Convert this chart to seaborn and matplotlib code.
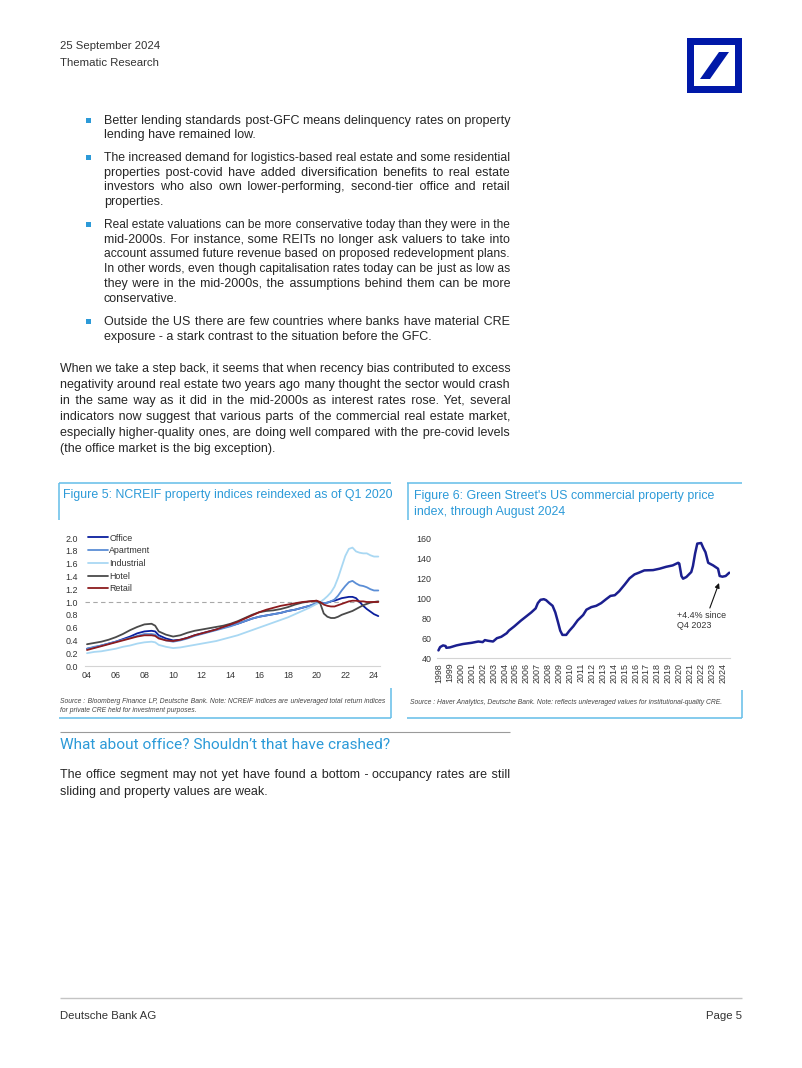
import matplotlib
matplotlib.use("Agg")
import matplotlib.pyplot as plt
import seaborn as sns
import numpy as np
import pandas as pd
from matplotlib.patches import Rectangle, Polygon
from matplotlib.lines import Line2D

# ---------------- DATA ----------------
# Figure 5: NCREIF property indices reindexed (Q1 2020 = 1)
ncreif_years = [2004, 2004.5, 2005, 2005.5, 2006, 2006.5, 2007, 2007.5, 2008, 2008.5, 2008.75,
                2009, 2009.5, 2010, 2010.5, 2011, 2011.5, 2012, 2012.5, 2013, 2013.5, 2014,
                2014.5, 2015, 2015.5, 2016, 2016.5, 2017, 2017.5, 2018, 2018.5, 2019, 2019.5,
                2020, 2020.25, 2020.5, 2020.75, 2021, 2021.25, 2021.5, 2021.75, 2022, 2022.25,
                2022.5, 2022.75, 2023, 2023.25, 2023.5, 2023.75, 2024, 2024.3]
office = [0.27, 0.29, 0.32, 0.35, 0.38, 0.42, 0.46, 0.51, 0.54, 0.55, 0.54,
          0.48, 0.43, 0.40, 0.41, 0.44, 0.48, 0.51, 0.54, 0.57, 0.60, 0.63,
          0.66, 0.70, 0.74, 0.77, 0.79, 0.81, 0.83, 0.86, 0.88, 0.91, 0.94,
          0.98, 1.00, 0.98, 0.99, 1.01, 1.02, 1.04, 1.06, 1.07, 1.08,
          1.08, 1.06, 1.00, 0.94, 0.89, 0.85, 0.81, 0.78]
apartment = [0.27, 0.30, 0.32, 0.35, 0.38, 0.41, 0.44, 0.47, 0.50, 0.50, 0.49,
             0.45, 0.40, 0.38, 0.40, 0.43, 0.47, 0.50, 0.53, 0.56, 0.59, 0.62,
             0.66, 0.70, 0.74, 0.77, 0.79, 0.81, 0.83, 0.86, 0.88, 0.91, 0.94,
             0.98, 0.99, 0.98, 0.99, 1.01, 1.04, 1.10, 1.18, 1.25, 1.31,
             1.33, 1.29, 1.26, 1.25, 1.23, 1.20, 1.18, 1.18]
industrial = [0.20, 0.22, 0.23, 0.25, 0.27, 0.30, 0.32, 0.35, 0.37, 0.38, 0.37,
              0.33, 0.30, 0.28, 0.29, 0.31, 0.33, 0.35, 0.37, 0.39, 0.42, 0.45,
              0.48, 0.52, 0.56, 0.60, 0.64, 0.68, 0.72, 0.76, 0.81, 0.86, 0.91,
              0.97, 1.00, 1.04, 1.09, 1.15, 1.24, 1.38, 1.55, 1.72, 1.83,
              1.85, 1.79, 1.77, 1.76, 1.76, 1.73, 1.71, 1.71]
hotel = [0.34, 0.36, 0.38, 0.41, 0.45, 0.50, 0.56, 0.61, 0.65, 0.66, 0.63,
         0.54, 0.49, 0.46, 0.48, 0.52, 0.55, 0.57, 0.59, 0.61, 0.63, 0.66,
         0.70, 0.75, 0.80, 0.84, 0.86, 0.87, 0.89, 0.92, 0.96, 0.99, 1.01,
         1.02, 0.98, 0.82, 0.77, 0.75, 0.75, 0.77, 0.80, 0.82, 0.84,
         0.86, 0.89, 0.92, 0.95, 0.97, 0.99, 1.00, 1.01]
retail = [0.25, 0.28, 0.31, 0.34, 0.37, 0.40, 0.43, 0.46, 0.48, 0.48, 0.47,
          0.43, 0.40, 0.39, 0.41, 0.44, 0.48, 0.51, 0.54, 0.57, 0.61, 0.65,
          0.69, 0.74, 0.79, 0.84, 0.88, 0.91, 0.94, 0.96, 0.98, 1.00, 1.01,
          1.02, 1.00, 0.96, 0.94, 0.93, 0.93, 0.95, 0.97, 0.99, 1.01,
          1.02, 1.02, 1.01, 1.01, 1.00, 1.00, 1.00, 1.00]
ncreif_names = ["Office", "Apartment", "Industrial", "Hotel", "Retail"]
ncreif_colors = ["#0a1f9e", "#5b8ed6", "#a9d8f3", "#4a4a4a", "#8c1b1e"]
ncreif_xticks = [2004, 2006, 2008, 2010, 2012, 2014, 2016, 2018, 2020, 2022, 2024]
ncreif_xlabels = ["04", "06", "08", "10", "12", "14", "16", "18", "20", "22", "24"]
ncreif_yticks = [0.0, 0.2, 0.4, 0.6, 0.8, 1.0, 1.2, 1.4, 1.6, 1.8, 2.0]

# Figure 6: Green Street US commercial property price index
gs_years = [1997.95, 1998.1, 1998.37, 1998.6, 1998.67, 1999.0, 1999.6, 2000.2, 2001.0, 2001.6,
            2002.0, 2002.2, 2002.5, 2002.95, 2003.3, 2003.7, 2004.2, 2004.4, 2004.9, 2005.5,
            2006.0, 2006.45, 2006.85, 2007.05, 2007.3, 2007.6, 2007.8, 2008.1, 2008.4, 2008.65,
            2008.9, 2009.1, 2009.3, 2009.65, 2009.95, 2010.3, 2010.7, 2011.2, 2011.5, 2011.95,
            2012.4, 2012.85, 2013.3, 2013.7, 2014.1, 2014.5, 2015.0, 2015.45, 2015.9, 2016.3,
            2016.8, 2017.6, 2018.2, 2018.8, 2019.4, 2019.9, 2020.0, 2020.2, 2020.35, 2020.65,
            2021.1, 2021.25, 2021.45, 2021.65, 2022.0, 2022.2, 2022.4, 2022.65, 2023.1, 2023.55,
            2023.7, 2023.95, 2024.25, 2024.58]
gs_values = [47.6, 50.9, 52.6, 52.0, 50.2, 50.6, 52.6, 54.0, 55.2, 56.5,
             55.9, 57.9, 57.2, 56.5, 59.8, 61.2, 64.8, 67.4, 71.7, 77.4,
             81.7, 85.6, 89.6, 94.9, 98.2, 98.8, 97.9, 94.9, 92.2, 85.6,
             75.7, 67.4, 63.1, 63.1, 67.4, 71.7, 77.7, 83.0, 88.3, 90.9,
             92.2, 94.9, 98.8, 102.1, 102.8, 106.8, 113.4, 119.7, 123.6, 125.3,
             127.6, 127.9, 129.3, 131.2, 132.6, 135.2, 134.5, 122.0, 119.3, 121.0,
             126.0, 131.9, 144.5, 154.4, 155.0, 150.0, 145.8, 135.2, 132.6, 129.3,
             122.0, 121.3, 122.0, 125.3]
gs_xticks = list(range(1998, 2025))
gs_yticks = [40, 60, 80, 100, 120, 140, 160]
gs_annotation = "+4.4% since\nQ4 2023"

# ---------------- PAGE SETUP ----------------
W, H = 802, 1068
sns.set_theme(style="white")
plt.rcParams["font.family"] = ["Liberation Sans", "DejaVu Sans"]

fig = plt.figure(figsize=(W / 100, H / 100), dpi=100)
renderer = fig.canvas.get_renderer()

BLUE_TXT = "#2c9ad8"
BOX = "#63bde8"
BODY = "#262626"
DB = "#0018a8"
BODY_SIZE = 9.0
HAIR = "\u200a"


def fx(x):
    return x / W


def fy(y):
    return 1 - y / H


def hline(x0, x1, y, color, lw):
    fig.add_artist(Line2D([fx(x0), fx(x1)], [fy(y), fy(y)], transform=fig.transFigure,
                          color=color, lw=lw, solid_capstyle="butt"))


def vline(x, y0, y1, color, lw):
    fig.add_artist(Line2D([fx(x), fx(x)], [fy(y0), fy(y1)], transform=fig.transFigure,
                          color=color, lw=lw, solid_capstyle="butt"))


def text_width(s, size, **kw):
    t = fig.text(0, 0, s, fontsize=size, **kw)
    w = t.get_window_extent(renderer).width
    t.remove()
    return w


def put_line(s, x0, x1, yc, size=BODY_SIZE, justify=True, color=BODY, **kw):
    yb = fy(yc + 4)
    if justify:
        words = s.split()
        avail = x1 - x0
        natural = text_width(s, size, **kw)
        if natural > avail:
            size = size * avail / natural
            natural = text_width(s, size, **kw)
        extra = avail - natural
        wh = text_width("a" + HAIR * 10 + "a", size, **kw) - text_width("aa", size, **kw)
        wh /= 10.0
        total = int(round(extra / wh)) if wh > 0 else 0
        ngaps = len(words) - 1
        parts = [words[0]]
        done = 0
        for i in range(1, len(words)):
            target = int(round(total * i / ngaps))
            parts.append(" " + HAIR * (target - done) + words[i])
            done = target
        s = "".join(parts)
    fig.text(fx(x0), yb, s, fontsize=size, color=color, va="baseline", ha="left", **kw)


# ---------------- HEADER ----------------
put_line("25 September 2024", 60, 0, 45, size=8.2, justify=False, color="#333333")
put_line("Thematic Research", 60, 0, 62, size=8.2, justify=False, color="#333333")

# logo
fig.add_artist(Rectangle((fx(687), fy(93)), fx(742) - fx(687), fy(38) - fy(93),
                         transform=fig.transFigure, color=DB, lw=0))
fig.add_artist(Rectangle((fx(694), fy(86)), fx(735) - fx(694), fy(45) - fy(86),
                         transform=fig.transFigure, color="white", lw=0))
fig.add_artist(Polygon([(fx(700), fy(79)), (fx(710), fy(79)), (fx(729), fy(52)), (fx(719), fy(52))],
                       closed=True, transform=fig.transFigure, color=DB, lw=0))

# ---------------- BODY TEXT ----------------
bullets = [
    [("Better lending standards post-GFC means delinquency rates on property", 120, True),
     ("lending have remained low.", 134, False)],
    [("The increased demand for logistics-based real estate and some residential", 157, True),
     ("properties post-covid have added diversification benefits to real estate", 172, True),
     ("investors who also own lower-performing, second-tier office and retail", 186, True),
     ("properties.", 201, False)],
    [("Real estate valuations can be more conservative today than they were in the", 224, True),
     ("mid-2000s. For instance, some REITs no longer ask valuers to take into", 239, True),
     ("account assumed future revenue based on proposed redevelopment plans.", 253, True),
     ("In other words, even though capitalisation rates today can be just as low as", 268, True),
     ("they were in the mid-2000s, the assumptions behind them can be more", 283, True),
     ("conservative.", 298, False)],
    [("Outside the US there are few countries where banks have material CRE", 321, True),
     ("exposure - a stark contrast to the situation before the GFC.", 336, False)],
]
for b in bullets:
    y0 = b[0][1]
    fig.add_artist(Rectangle((fx(86), fy(y0 + 3)), 5 / W, 5 / H, transform=fig.transFigure,
                             color=BLUE_TXT, lw=0))
    for s, y, j in b:
        put_line(s, 104, 510, y, justify=j)

para = [("When we take a step back, it seems that when recency bias contributed to excess", 368, True),
        ("negativity around real estate two years ago many thought the sector would crash", 384, True),
        ("in the same way as it did in the mid-2000s as interest rates rose. Yet, several", 400, True),
        ("indicators now suggest that various parts of the commercial real estate market,", 416, True),
        ("especially higher-quality ones, are doing well compared with the pre-covid levels", 432, True),
        ("(the office market is the big exception).", 448, False)]
for s, y, j in para:
    put_line(s, 60, 510, y, justify=j)

# ---------------- FIGURE FRAMES ----------------
# figure 5 frame
hline(59, 391, 483, BOX, 1.1)
vline(59, 483, 520, BOX, 1.1)
hline(59, 391, 718, BOX, 1.1)
vline(391, 688, 718, BOX, 1.1)
put_line("Figure 5: NCREIF property indices reindexed as of Q1 2020", 63, 0, 494, size=8.9,
         justify=False, color=BLUE_TXT)
put_line("Source : Bloomberg Finance LP, Deutsche Bank. Note: NCREIF indices are unleveraged total return indices",
         60, 385, 699, size=4.9, justify=True, color="#444444", style="italic")
put_line("for private CRE held for investment purposes.", 60, 0, 708, size=4.9, justify=False,
         color="#444444", style="italic")

# figure 6 frame
hline(407, 742, 483, BOX, 1.1)
vline(408, 483, 520, BOX, 1.1)
hline(407, 742, 718, BOX, 1.1)
vline(742, 690, 718, BOX, 1.1)
put_line("Figure 6: Green Street's US commercial property price", 414, 0, 495, size=8.9,
         justify=False, color=BLUE_TXT)
put_line("index, through August 2024", 414, 0, 511, size=8.9, justify=False, color=BLUE_TXT)
put_line("Source : Haver Analytics, Deutsche Bank. Note: reflects unleveraged values for institutional-quality CRE.",
         410, 0, 700, size=4.9, justify=False, color="#444444", style="italic")

# ---------------- CHART 5 ----------------
def add_axes_px(l, r, t, b):
    return fig.add_axes([fx(l), fy(b), (r - l) / W, (b - t) / H])


ax5 = add_axes_px(85, 380, 538, 666)
df5 = pd.DataFrame({
    "year": np.tile(ncreif_years, len(ncreif_names)),
    "value": np.concatenate([office, apartment, industrial, hotel, retail]),
    "series": np.repeat(ncreif_names, len(ncreif_years)),
})
ax5.axhline(1.0, color="#a8a8a8", lw=0.8, ls=(0, (4, 3)), zorder=1)
sns.lineplot(data=df5, x="year", y="value", hue="series", hue_order=ncreif_names,
             palette=dict(zip(ncreif_names, ncreif_colors)), ax=ax5, lw=1.3, legend=False,
             zorder=3)
ax5.set_xlim(2004 - 2 / 14.35, 2004 + (380 - 87) / 14.35)
ax5.set_ylim(0, 2.0)
ax5.set_xticks(ncreif_xticks)
ax5.set_xticklabels(ncreif_xlabels)
ax5.set_yticks(ncreif_yticks)
ax5.set_yticklabels([f"{v:.1f}" for v in ncreif_yticks])
ax5.set_xlabel("")
ax5.set_ylabel("")
ax5.tick_params(axis="both", length=0, labelsize=6.4, labelcolor="#333333")
ax5.tick_params(axis="x", pad=3.5)
ax5.tick_params(axis="y", pad=5)
for sp in ["top", "right", "left"]:
    ax5.spines[sp].set_visible(False)
ax5.spines["bottom"].set_color("#d4d4d4")
ax5.spines["bottom"].set_linewidth(0.8)
ax5.patch.set_alpha(0)
handles = [Line2D([], [], color=c, lw=1.3) for c in ncreif_colors]
ax5.legend(handles, ncreif_names, loc="upper left", bbox_to_anchor=(0.01, 1.035), frameon=False,
           fontsize=6.4, handlelength=2.2, handletextpad=0.2, labelspacing=0.42, borderpad=0,
           borderaxespad=0, labelcolor="#333333")

# ---------------- CHART 6 ----------------
ax6 = add_axes_px(437, 729.5, 538, 658)
df6 = pd.DataFrame({"date": gs_years, "index": gs_values})
sns.lineplot(data=df6, x="date", y="index", ax=ax6, color="#1b1f8f", lw=1.8)
ax6.set_xlim(1998 - 2 / 10.92, 2024.6)
ax6.set_ylim(40, 160)
ax6.set_xticks(gs_xticks)
ax6.set_xticklabels([str(y) for y in gs_xticks], rotation=90)
ax6.set_yticks(gs_yticks)
ax6.set_yticklabels([str(v) for v in gs_yticks])
ax6.set_xlabel("")
ax6.set_ylabel("")
ax6.tick_params(axis="both", length=0, labelsize=6.4, labelcolor="#333333")
ax6.tick_params(axis="x", pad=3.5)
ax6.tick_params(axis="y", pad=4)
for sp in ["top", "right", "left"]:
    ax6.spines[sp].set_visible(False)
ax6.spines["bottom"].set_color("#d4d4d4")
ax6.spines["bottom"].set_linewidth(0.8)
ax6.patch.set_alpha(0)
ax6.annotate("", xy=(2023.64, 115), xytext=(2022.8, 90),
             arrowprops=dict(arrowstyle="-|>", color="#111111", lw=0.8, mutation_scale=7,
                             shrinkA=0, shrinkB=0))
ax6.text(2019.8, 87, gs_annotation, fontsize=6.4, color="#333333", ha="left", va="top",
         linespacing=1.15)

# ---------------- SECTION ----------------
hline(60, 510, 732, "#9a9a9a", 0.8)
fig.text(fx(60), fy(749), "What about office? Shouldn\u2019t that have crashed?", fontsize=11.1,
         color=BLUE_TXT, va="baseline", ha="left", family=["Roboto", "Liberation Sans", "DejaVu Sans"],
         fontweight="normal")
put_line("The office segment may not yet have found a bottom - occupancy rates are still", 60, 510, 774)
put_line("sliding and property values are weak.", 60, 0, 791, justify=False)

# ---------------- FOOTER ----------------
hline(60, 742, 998, "#c4c4c4", 1.0)
put_line("Deutsche Bank AG", 60, 0, 1015, size=8.2, justify=False, color="#333333")
fig.text(fx(742), fy(1019), "Page 5", fontsize=8.2, color="#333333", ha="right", va="baseline")

fig.savefig("out.png", dpi=100)
